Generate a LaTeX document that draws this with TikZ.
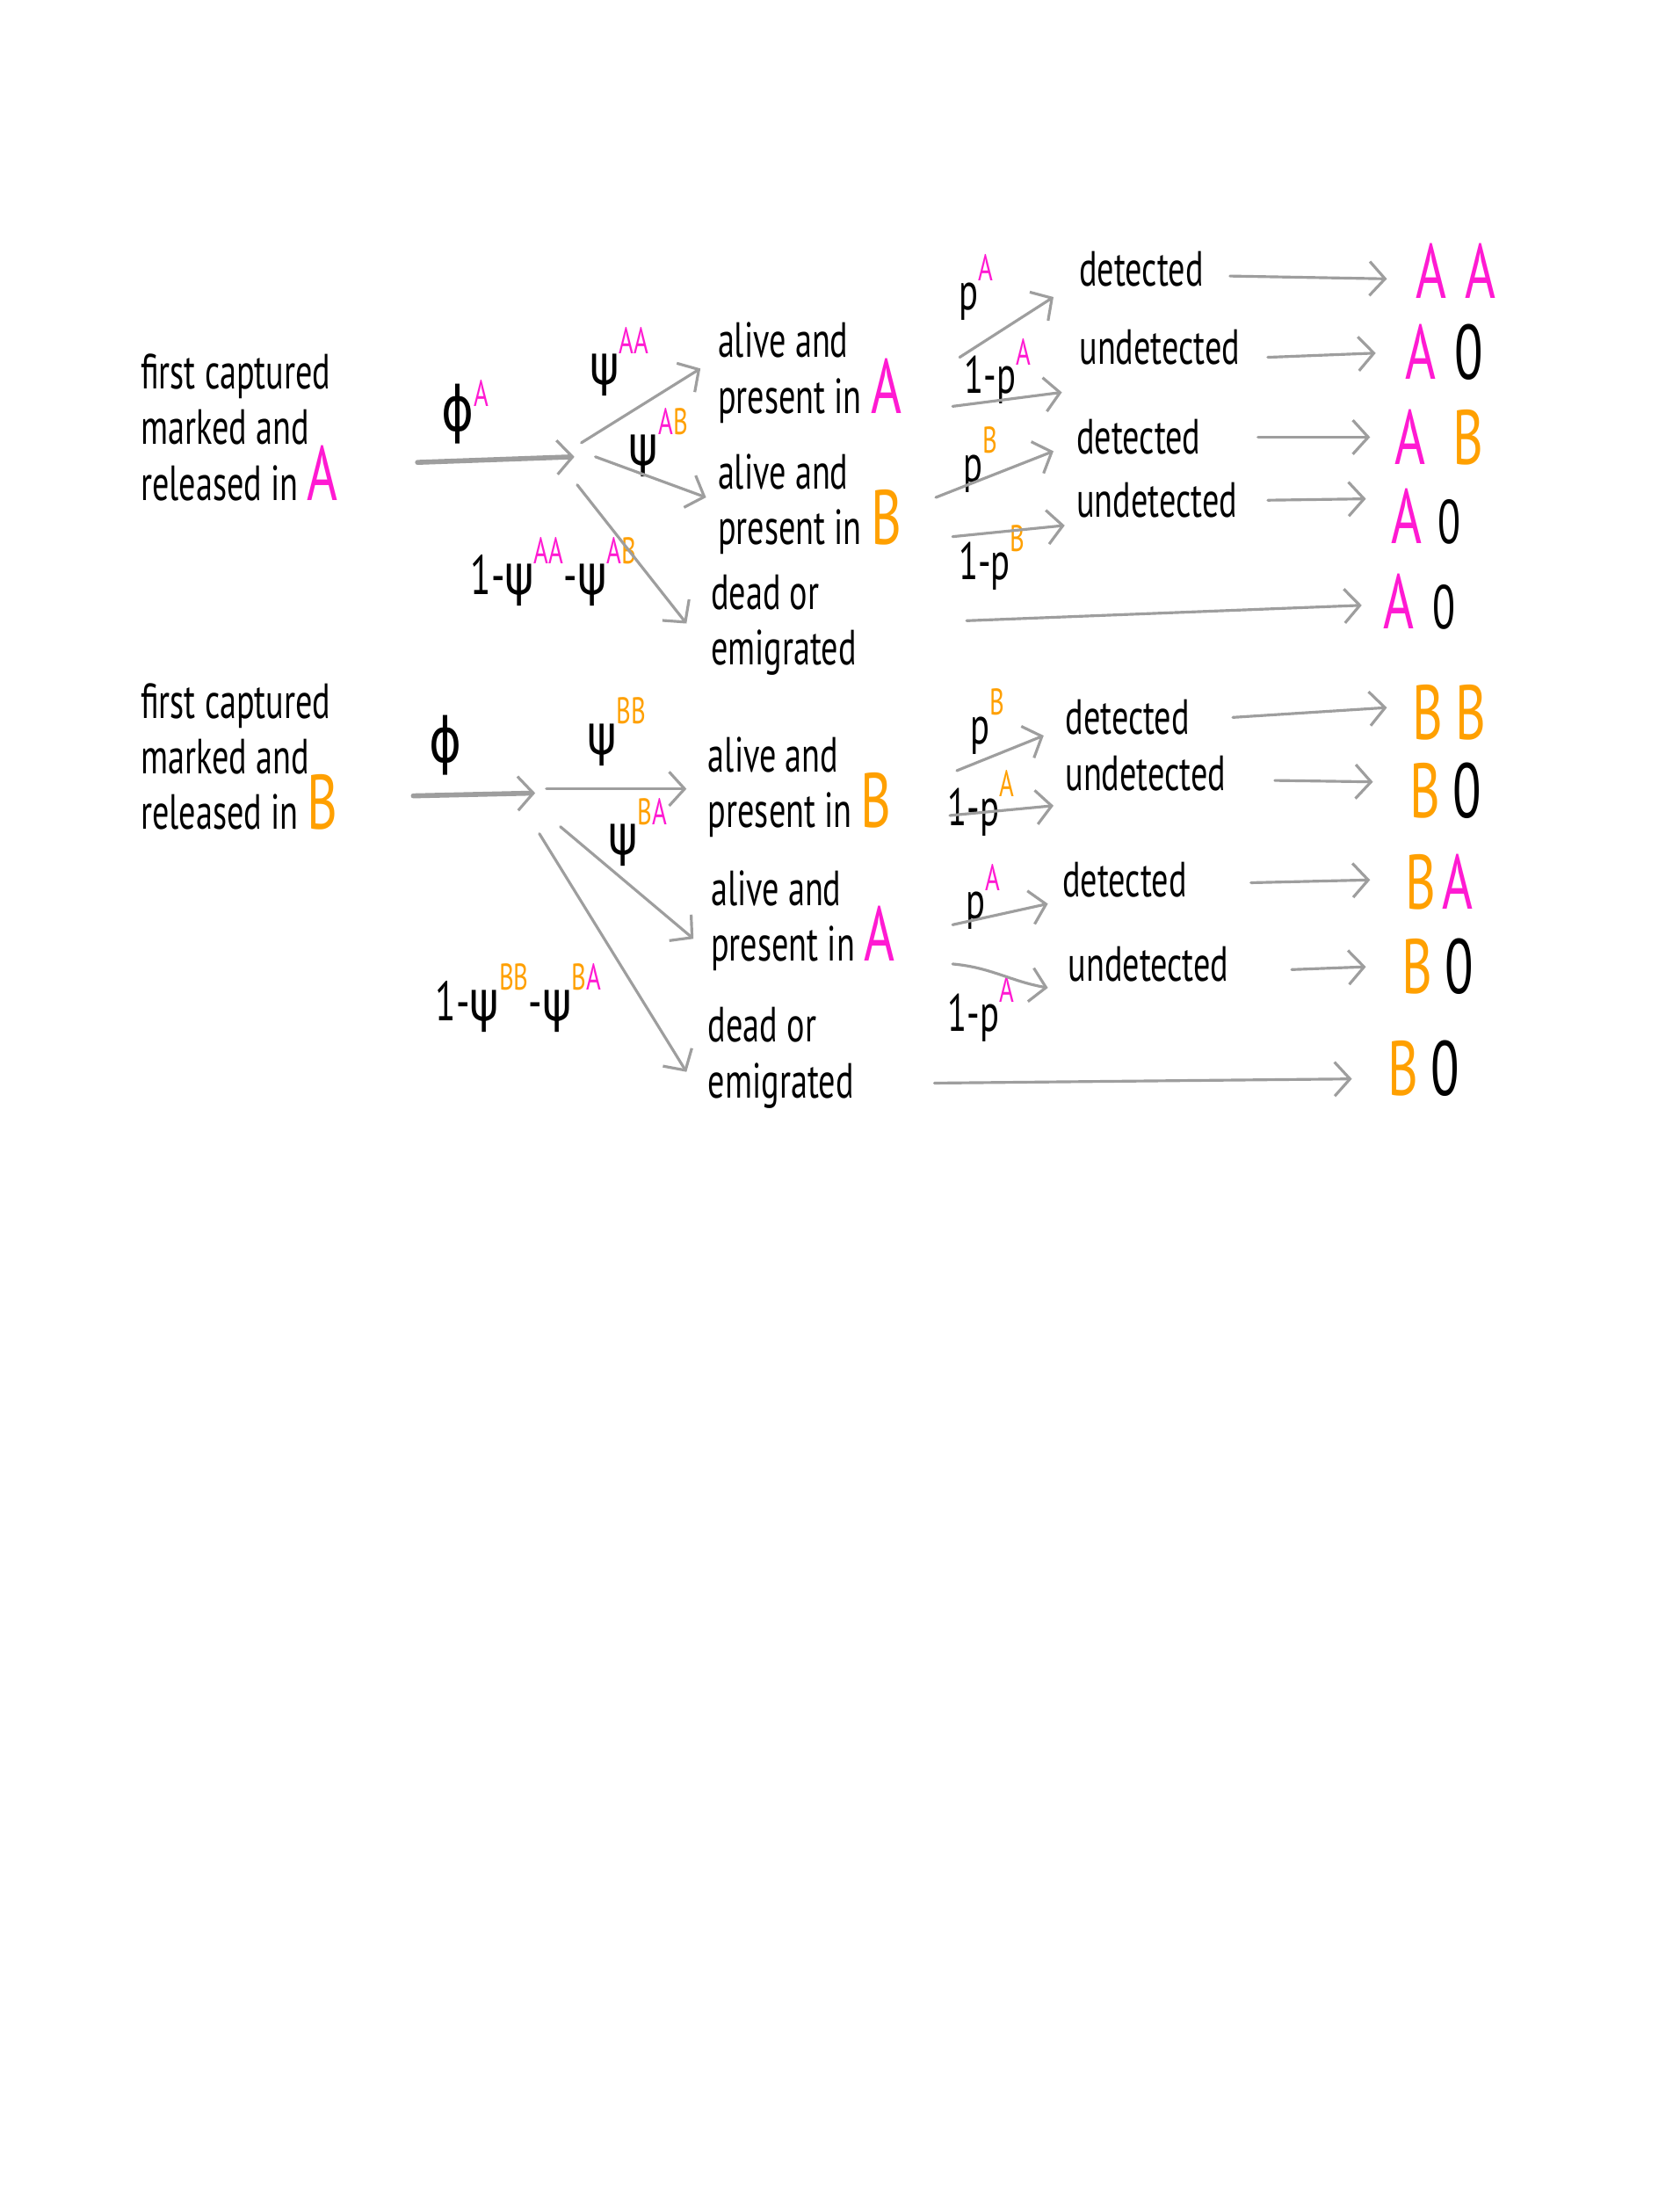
\documentclass[tikz,border=0pt]{standalone}
\usepackage{fontspec}
\setmainfont{PT Sans}[FakeStretch=0.68]
\newfontfamily\grk{DejaVu Sans}[FakeStretch=0.8]
\usetikzlibrary{arrows.meta,calc}
\definecolor{pinkc}{HTML}{FF1AD2}
\definecolor{orangec}{HTML}{FFA000}
\definecolor{arrc}{HTML}{9E9E9E}
\newcommand{\PA}{\textcolor{pinkc}{A}}
\newcommand{\OB}{\textcolor{orangec}{B}}
\newcommand{\bigA}{{\fontsize{25}{18}\selectfont\textcolor{pinkc}{A}}}
\newcommand{\bigB}{{\fontsize{25}{18}\selectfont\textcolor{orangec}{B}}}
\newcommand{\hsup}[1]{\raisebox{0.55em}{\fontsize{12}{12}\selectfont #1}}
\newcommand{\gpsi}{{\grk ψ}}
\newcommand{\gphi}{{\grk ϕ}}
\begin{document}
\begin{tikzpicture}[x=0.01594cm,y=-0.01594cm,
  txt/.style={align=left,inner sep=0pt,anchor=west,font=\fontsize{16}{18}\selectfont},
  sym/.style={inner sep=0pt,font=\fontsize{18}{18}\selectfont},
  lab/.style={inner sep=0pt,font=\fontsize{17}{17}\selectfont},
  res/.style={inner sep=0pt,anchor=west,text height=17pt,text depth=0pt,font=\fontsize{25}{25}\selectfont},
  arr/.style={draw=arrc,line width=0.9pt,line cap=round,
    -{Straight Barb[length=5pt,width=11pt,line width=0.9pt]}},
  arrthick/.style={arr,line width=1.6pt}]
\fill[white] (0,0) rectangle (1199,1568);
\useasboundingbox (0,0) rectangle (1199,1568);

% ---------------- top block ----------------
\node[txt] (startA) at (100,305) {first captured\\marked and\\released in \bigA};
\node[sym,font=\fontsize{20}{20}\selectfont] (phiA) at (332,294) {\gphi\raisebox{0.4em}{\fontsize{12}{12}\selectfont\PA}};
\coordinate (forkA) at (410,326);
\node[sym] (psiAA) at (442,258) {\gpsi\hsup{\PA\PA}};
\node[sym] (psiAB) at (470,316) {\gpsi\hsup{\PA\OB}};
\node[sym] (omA) at (395,408) {1-\gpsi\hsup{\PA\PA}-\gpsi\hsup{\PA\OB}};

\node[txt] (aliveA) at (512,266) {alive and\\present in \bigA};
\node[txt] (aliveB) at (512,360) {alive and\\present in \bigB};
\node[txt] (deadA) at (507,446) {dead or\\emigrated};

\draw[arrthick] ($(startA.west)+(198,25)$) -- (forkA);
\draw[arr] ($(forkA)+(5,-10)$) -- ($(aliveA.west)+(-12,-3)$);
\draw[arr] ($(forkA)+(15,0)$) -- ($(aliveB.west)+(-8,-5)$);
\draw[arr] ($(forkA)+(2,20)$) -- ($(deadA.west)+(-17,-1)$);

\node[lab] (pA1) at (697,205) {p\hsup{\PA}};
\node[lab] (qA1) at (712,265) {1-p\hsup{\PA}};
\node[lab] (pB1) at (700,328) {p\hsup{\OB}};
\node[lab] (qB1) at (708,398) {1-p\hsup{\OB}};

\node[txt] (detA1) at (770,192) {detected};
\node[txt] (undA1) at (770,248) {undetected};
\node[txt] (detB1) at (768,312) {detected};
\node[txt] (undB1) at (768,357) {undetected};

\draw[arr] ($(aliveA.west)+(173,-11)$) -- ($(detA1.west)+(-18,20)$);
\draw[arr] ($(aliveA.west)+(168,24)$) -- ($(undA1.west)+(-12,32)$);
\draw[arr] ($(aliveB.west)+(156,-5)$) -- ($(detB1.west)+(-16,10)$);
\draw[arr] ($(aliveB.west)+(168,23)$) -- ($(undB1.west)+(-8,18)$);

\node[res] (rAA) at (1010,194) {\textcolor{pinkc}{A\kern6pt A}};
\node[res] (rA0a) at (1003,252) {\PA\kern6pt 0};
\node[res] (rAB) at (995,313) {\PA\kern9pt\OB};
\node[res] (rA0b) at (993,369) {\PA\kern5pt{\fontsize{20}{20}\selectfont 0}};
\node[res] (rA0c) at (987,430) {\PA\kern6pt{\fontsize{20}{20}\selectfont 0}};

\draw[arr] ($(detA1.west)+(108,5)$) -- ($(rAA.west)+(-20,5)$);
\draw[arr] ($(undA1.west)+(135,7)$) -- ($(rA0a.west)+(-21,0)$);
\draw[arr] ($(detB1.west)+(130,0)$) -- ($(rAB.west)+(-17,-1)$);
\draw[arr] ($(undB1.west)+(137,0)$) -- ($(rA0b.west)+(-18,-13)$);
\draw[arr] ($(deadA.west)+(183,-3)$) -- ($(rA0c.west)+(-15,2)$);

% ---------------- bottom block ----------------
\node[txt] (startB) at (100,540) {first captured\\marked and\\released in \bigB};
\node[sym,font=\fontsize{20}{20}\selectfont] (phiB) at (318,532) {\gphi};
\coordinate (forkB) at (382,566);
\node[sym] (psiBB) at (440,522) {\gpsi\hsup{\OB\OB}};
\node[sym] (psiBA) at (455,594) {\gpsi\hsup{\OB\PA}};
\node[sym] (omB) at (370,712) {1-\gpsi\hsup{\OB\OB}-\gpsi\hsup{\OB\PA}};

\node[txt] (aliveB2) at (505,562) {alive and\\present in \bigB};
\node[txt] (aliveA2) at (507,657) {alive and\\present in \bigA};
\node[txt] (deadB) at (505,755) {dead or\\emigrated};

\draw[arrthick] ($(startB.west)+(195,28)$) -- (forkB);
\draw[arr] ($(forkB)+(8,-3)$) -- ($(aliveB2.west)+(-15,1)$);
\draw[arr] ($(forkB)+(18,24)$) -- ($(aliveA2.west)+(-12,13)$);
\draw[arr] ($(forkB)+(3,29)$) -- ($(deadB.west)+(-15,10)$);

\node[lab] (pB2) at (705,515) {p\hsup{\OB}};
\node[lab] (qA2) at (700,573) {1-p\hsup{\textcolor{orangec}{A}}};
\node[lab] (pA3) at (702,640) {p\hsup{\PA}};
\node[lab] (qA3) at (700,720) {1-p\hsup{\PA}};

\node[txt] (detB2) at (760,512) {detected};
\node[txt] (undA2) at (760,552) {undetected};
\node[txt] (detA3) at (758,628) {detected};
\node[txt] (undA3) at (762,688) {undetected};

\draw[arr] ($(aliveB2.west)+(178,-12)$) -- ($(detB2.west)+(-15,13)$);
\draw[arr] ($(aliveB2.west)+(173,20)$) -- ($(undA2.west)+(-8,23)$);
\draw[arr] ($(aliveA2.west)+(173,3)$) -- ($(detA3.west)+(-10,17)$);
\draw[arr] ($(aliveA2.west)+(173,31)$) to[out=-5,in=170] ($(undA3.west)+(-14,17)$);

\node[res] (rBB) at (1008,509) {\textcolor{orangec}{B\kern4pt B}};
\node[res] (rB0a) at (1006,565) {\OB\kern4pt 0};
\node[res] (rBA) at (1003,630) {\OB\kern2pt\PA};
\node[res] (rB0b) at (1000,690) {\OB\kern4pt 0};
\node[res] (rB0c) at (990,763) {\OB\kern4pt 0};

\draw[arr] ($(detB2.west)+(120,0)$) -- ($(rBB.west)+(-18,-4)$);
\draw[arr] ($(undA2.west)+(150,5)$) -- ($(rB0a.west)+(-26,-7)$);
\draw[arr] ($(detA3.west)+(135,2)$) -- ($(rBA.west)+(-25,-2)$);
\draw[arr] ($(undA3.west)+(160,4)$) -- ($(rB0b.west)+(-25,0)$);
\draw[arr] ($(deadB.west)+(162,18)$) -- ($(rB0c.west)+(-25,7)$);
\end{tikzpicture}
\end{document}
